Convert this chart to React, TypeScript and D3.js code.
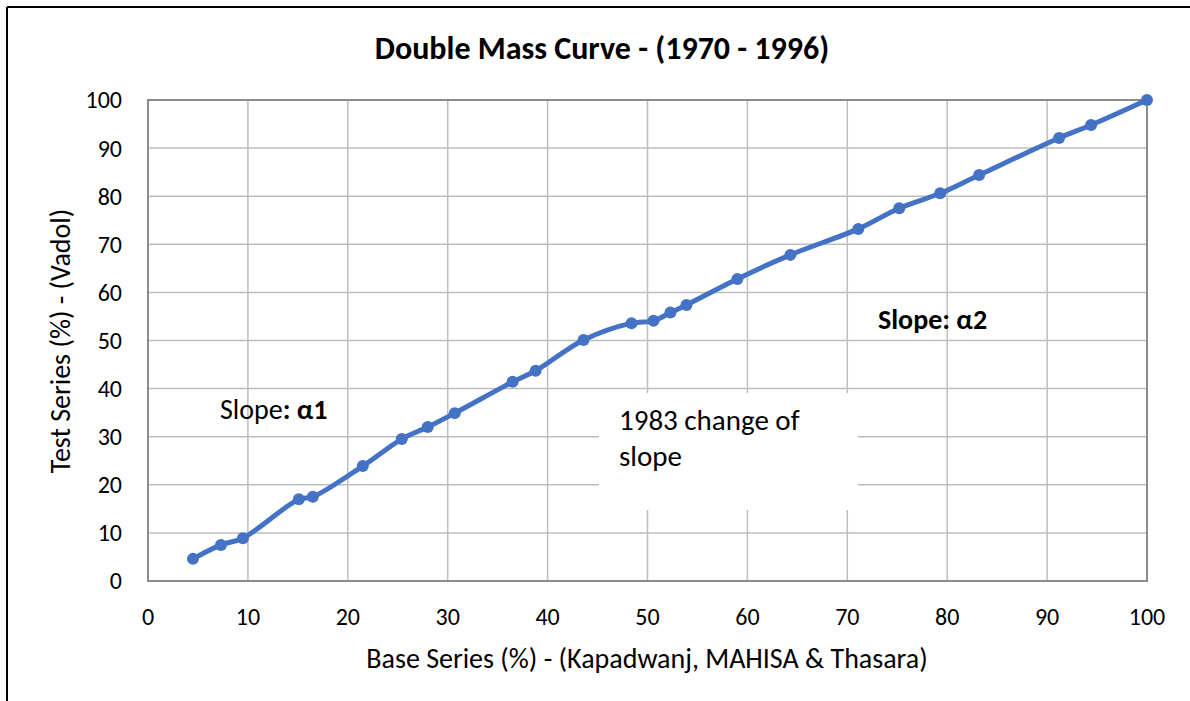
import React from "react";
import * as d3 from "d3";

const baseSeries = [4.5, 7.3, 9.5, 15.1, 16.5, 21.5, 25.4, 28.0, 30.7, 36.5, 38.8, 43.6, 48.4, 50.6, 52.3, 53.9, 59.0, 64.3, 71.1, 75.2, 79.3, 83.2, 91.2, 94.4, 100];
const testSeries = [4.6, 7.5, 8.9, 17.0, 17.5, 23.9, 29.5, 32.0, 34.9, 41.4, 43.7, 50.1, 53.6, 54.1, 55.8, 57.4, 62.8, 67.8, 73.2, 77.5, 80.6, 84.4, 92.1, 94.8, 100];
const xTicks = [0, 10, 20, 30, 40, 50, 60, 70, 80, 90, 100];
const yTicks = [0, 10, 20, 30, 40, 50, 60, 70, 80, 90, 100];

const titleText = "Double Mass Curve - (1970 - 1996)";
const xLabel = "Base Series (%) - (Kapadwanj, MAHISA & Thasara)";
const yLabel = "Test Series (%) - (Vadol)";

const W = 1190;
const H = 701;
const M = { left: 148, right: 1147, top: 100, bottom: 581 };
const FONT = "Carlito, Calibri, Lato, 'Liberation Sans', sans-serif";
const BLUE = "#4472C4";

export default function App() {
  const x = d3.scaleLinear().domain([0, 100]).range([M.left, M.right]);
  const y = d3.scaleLinear().domain([0, 100]).range([M.bottom, M.top]);
  const pts: [number, number][] = baseSeries.map((b, i) => [b, testSeries[i]]);
  const line = d3
    .line<[number, number]>()
    .x((d) => x(d[0]))
    .y((d) => y(d[1]))
    .curve(d3.curveCatmullRom.alpha(0.5));

  return (
    <div style={{ position: "absolute", left: 0, top: 0 }}>
      <svg width={W} height={H} style={{ display: "block", background: "#fff" }}>
        {/* outer frame */}
        <line x1={7} y1={7} x2={W} y2={7} stroke="#000" strokeWidth={2} />
        <line x1={7} y1={7} x2={7} y2={H} stroke="#000" strokeWidth={2} />

        {/* gridlines */}
        {xTicks.map((t) => (
          <line key={"gx" + t} x1={x(t)} x2={x(t)} y1={M.top} y2={M.bottom} stroke="#bdbdbd" strokeWidth={1.5} />
        ))}
        {yTicks.map((t) => (
          <line key={"gy" + t} x1={M.left} x2={M.right} y1={y(t)} y2={y(t)} stroke="#bdbdbd" strokeWidth={1.5} />
        ))}
        {/* plot border */}
        <rect x={M.left} y={M.top} width={M.right - M.left} height={M.bottom - M.top} fill="none" stroke="#8c8c8c" strokeWidth={2} />

        {/* annotation box covering grid */}
        <rect x={599} y={393} width={259} height={117} fill="#fff" />
        <text x={619} y={430} fontFamily={FONT} fontSize={29} fill="#000">1983 change of</text>
        <text x={619} y={466} fontFamily={FONT} fontSize={29} fill="#000">slope</text>

        {/* series */}
        <path d={line(pts) || ""} fill="none" stroke={BLUE} strokeWidth={5} strokeLinejoin="round" strokeLinecap="round" />
        {pts.map((p, i) => (
          <circle key={i} cx={x(p[0])} cy={y(p[1])} r={6} fill={BLUE} />
        ))}

        {/* annotations */}
        <text x={220} y={419} fontFamily={FONT} fontSize={28} fill="#000">
          Slope<tspan fontWeight="bold">: α1</tspan>
        </text>
        <text x={878} y={329} fontFamily={FONT} fontSize={28} fontWeight="bold" fill="#000">
          Slope: α2
        </text>

        {/* tick labels */}
        {yTicks.map((t) => (
          <text key={"ty" + t} x={122} y={y(t)} dy="0.35em" textAnchor="end" fontFamily={FONT} fontSize={24} fill="#000">
            {t}
          </text>
        ))}
        {xTicks.map((t) => (
          <text key={"tx" + t} x={x(t)} y={625} textAnchor="middle" fontFamily={FONT} fontSize={24} fill="#000">
            {t}
          </text>
        ))}

        {/* title & axis labels */}
        <text x={602} y={59} textAnchor="middle" fontFamily={FONT} fontSize={32} fontWeight="bold" fill="#000">
          {titleText}
        </text>
        <text x={647} y={668} textAnchor="middle" fontFamily={FONT} fontSize={28} fill="#000">
          {xLabel}
        </text>
        <text transform={`translate(70,341) rotate(-90)`} textAnchor="middle" fontFamily={FONT} fontSize={28} fill="#000">
          {yLabel}
        </text>
      </svg>
    </div>
  );
}
